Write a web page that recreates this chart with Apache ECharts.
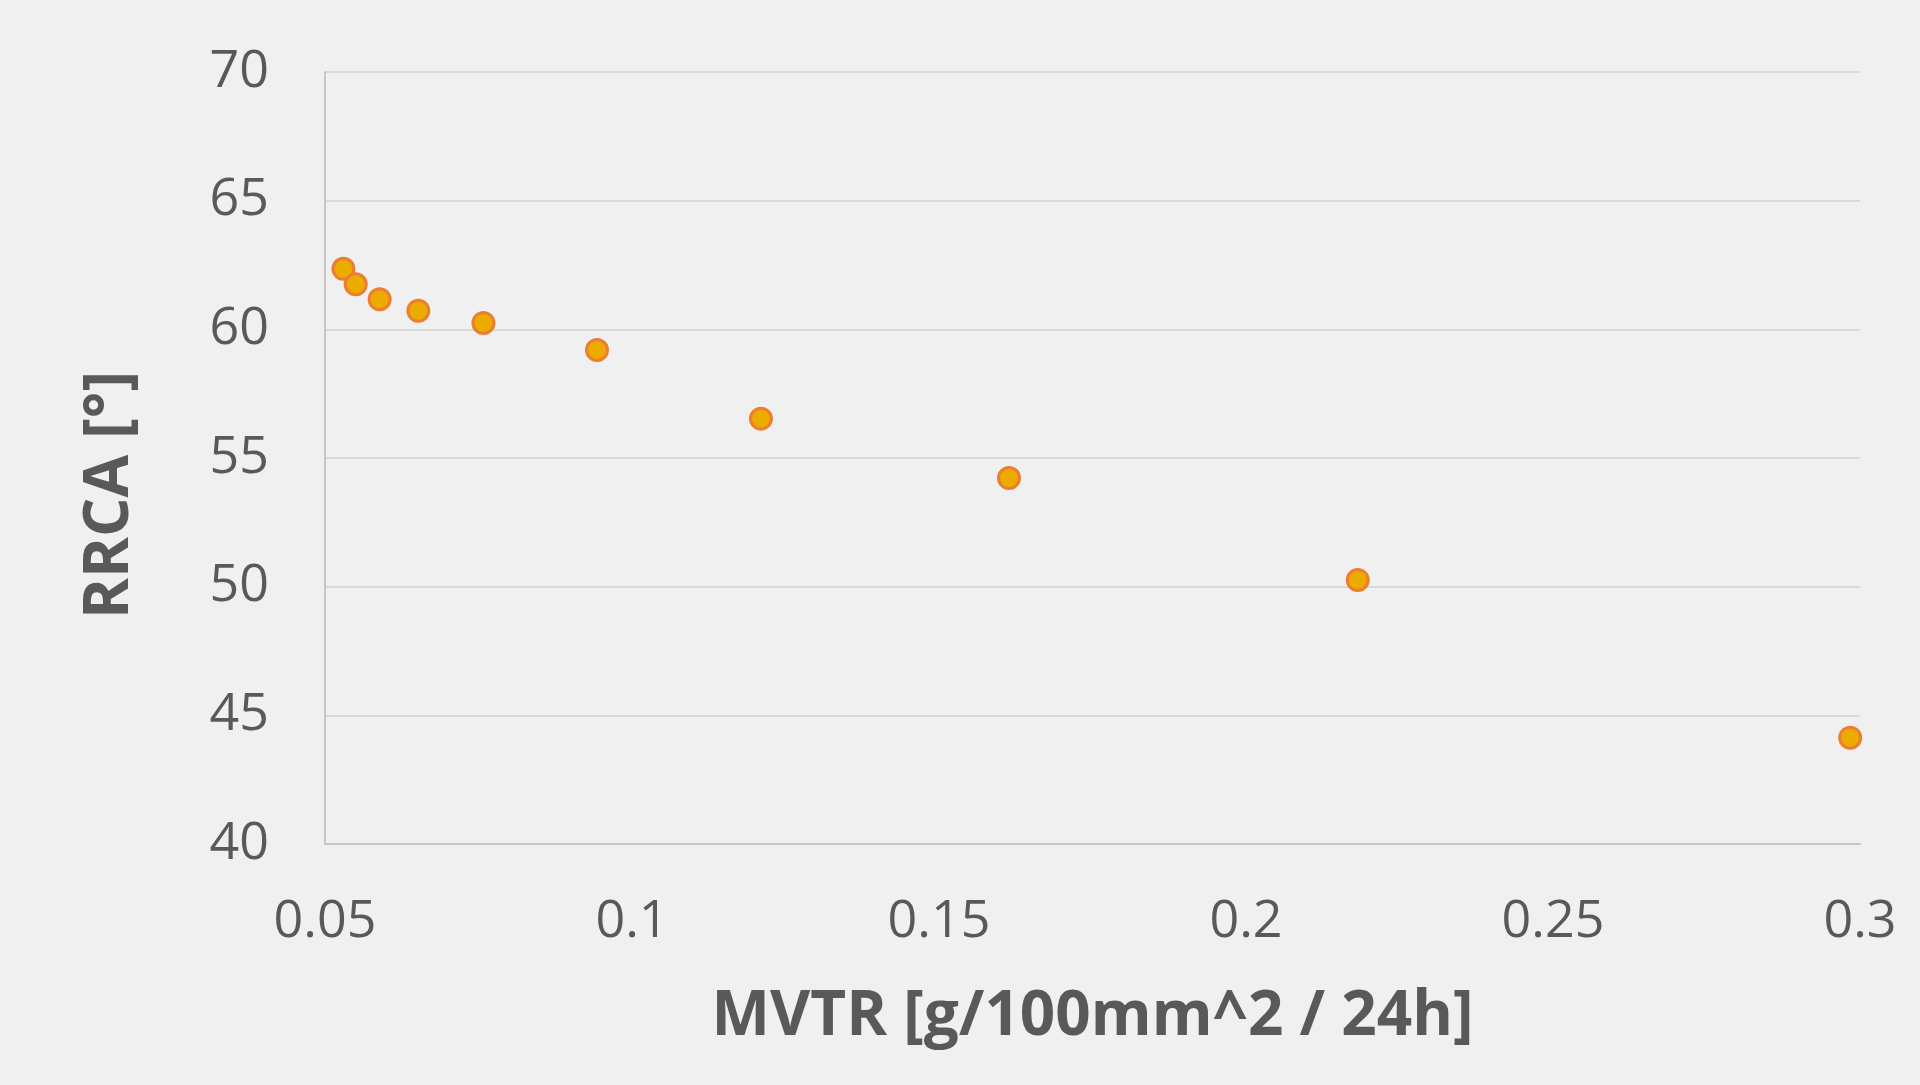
<!DOCTYPE html>
<html>
<head>
<meta charset="utf-8">
<title>RRCA vs MVTR</title>
<script src="https://cdn.jsdelivr.net/npm/echarts@6/dist/echarts.min.js"></script>
<style>
    html, body { margin: 0; padding: 0; background: #f0f0f0; }
    #chart { width: 1920px; height: 1085px; }
</style>
</head>
<body>
<div id="chart"></div>
<script>
// 数据
const mvtr = [0.0530, 0.0550, 0.0589, 0.0652, 0.0758, 0.0943, 0.1210, 0.1614, 0.2182, 0.2984];
const rrca = [62.35, 61.75, 61.17, 60.72, 60.25, 59.20, 56.53, 54.22, 50.26, 44.13];

const xName = 'MVTR [g/100mm^2 / 24h]';
const yName = 'RRCA [°]';

const chart = echarts.init(document.getElementById('chart'));

const labelStyle = { color: '#595959', fontFamily: 'Open Sans', fontSize: 52 };
const nameStyle = { color: '#595959', fontFamily: 'Open Sans', fontSize: 62, fontWeight: 'bold' };

chart.setOption({
    backgroundColor: '#f0f0f0',
    animation: false,
    grid: { left: 325, right: 60, top: 72, bottom: 241 },
    xAxis: {
        type: 'value',
        min: 0.05,
        max: 0.3,
        interval: 0.05,
        name: xName,
        nameLocation: 'middle',
        nameGap: 142,
        nameTextStyle: nameStyle,
        axisLine: { show: true, lineStyle: { color: '#c6c6c6', width: 2 } },
        axisTick: { show: false },
        axisLabel: Object.assign({ margin: 52 }, labelStyle),
        splitLine: { show: false }
    },
    yAxis: {
        type: 'value',
        min: 40,
        max: 70,
        interval: 5,
        name: yName,
        nameLocation: 'middle',
        nameGap: 184,
        // 标题比轴中心稍低
        nameTextStyle: Object.assign({ padding: [0, 74, 0, 0] }, nameStyle),
        axisLine: { show: true, lineStyle: { color: '#c6c6c6', width: 2 } },
        axisTick: { show: false },
        axisLabel: Object.assign({ margin: 56 }, labelStyle),
        splitLine: { show: true, lineStyle: { color: '#d9d9d9', width: 2 } }
    },
    series: [{
        type: 'scatter',
        data: mvtr.map((x, i) => [x, rrca[i]]),
        symbol: 'circle',
        symbolSize: 21,
        itemStyle: { color: '#ebab00', borderColor: '#ed7d31', borderWidth: 3, opacity: 1 }
    }]
});
</script>
</body>
</html>
